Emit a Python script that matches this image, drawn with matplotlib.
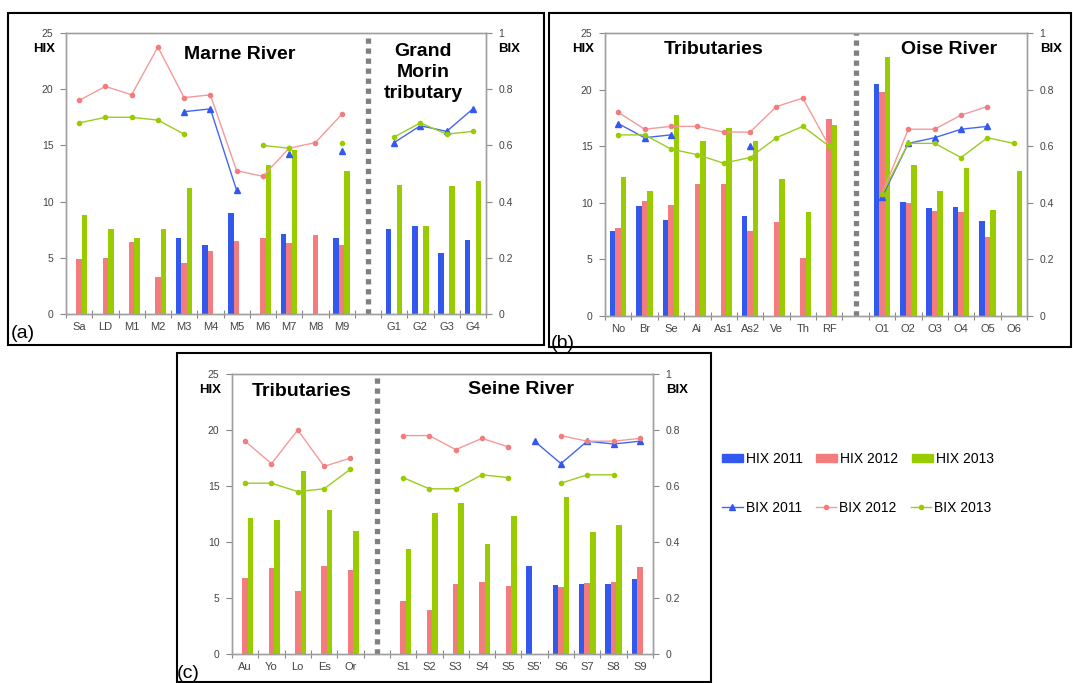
import numpy as np
import matplotlib
matplotlib.use('Agg')
import matplotlib.pyplot as plt
from matplotlib.lines import Line2D
from matplotlib.patches import Patch, Rectangle

plt.rcParams['font.family'] = ['Liberation Sans', 'DejaVu Sans']

W, H = 1073, 683
BLUE, PINK, GREEN = '#3358ee', '#f47c7c', '#99cc00'
LBLUE, LPINK, LGREEN = '#4466ee', '#f49a9a', '#9acc22'
n = np.nan

# (a) Marne River | Grand Morin tributary  ('' = gap with separator)
a_sites = ['Sa', 'LD', 'M1', 'M2', 'M3', 'M4', 'M5', 'M6', 'M7', 'M8', 'M9', '',
           'G1', 'G2', 'G3', 'G4']
a_hix11 = [n, n, n, n, 6.8, 6.1, 9.0, n, 7.1, n, 6.8, n, 7.6, 7.8, 5.4, 6.6]
a_hix12 = [4.9, 5.0, 6.4, 3.3, 4.5, 5.6, 6.5, 6.8, 6.3, 7.0, 6.1, n, n, n, n, n]
a_hix13 = [8.8, 7.6, 6.8, 7.6, 11.2, n, n, 13.3, 14.6, n, 12.7, n, 11.5, 7.8, 11.4, 11.8]
a_bix11 = [n, n, n, n, 0.72, 0.73, 0.44, n, 0.57, n, 0.58, n, 0.61, 0.67, 0.65, 0.73]
a_bix12 = [0.76, 0.81, 0.78, 0.95, 0.77, 0.78, 0.51, 0.49, 0.59, 0.61, 0.71, n, n, n, n, n]
a_bix13 = [0.68, 0.70, 0.70, 0.69, 0.64, n, n, 0.60, 0.59, n, 0.61, n, 0.63, 0.68, 0.64, 0.65]

# (b) Tributaries | Oise River
b_sites = ['No', 'Br', 'Se', 'Ai', 'As1', 'As2', 'Ve', 'Th', 'RF', '',
           'O1', 'O2', 'O3', 'O4', 'O5', 'O6']
b_hix11 = [7.5, 9.7, 8.5, n, n, 8.8, n, n, n, n, 20.5, 10.1, 9.5, 9.6, 8.4, n]
b_hix12 = [7.8, 10.2, 9.8, 11.7, 11.7, 7.5, 8.3, 5.1, 17.4, n, 19.8, 10.0, 9.3, 9.2, 7.0, n]
b_hix13 = [12.3, 11.0, 17.8, 15.5, 16.6, 15.5, 12.1, 9.2, 16.9, n, 22.9, 13.3, 11.0, 13.1, 9.4, 12.8]
b_bix11 = [0.68, 0.63, 0.64, n, n, 0.60, n, n, n, n, 0.42, 0.61, 0.63, 0.66, 0.67, n]
b_bix12 = [0.72, 0.66, 0.67, 0.67, 0.65, 0.65, 0.74, 0.77, 0.60, n, 0.43, 0.66, 0.66, 0.71, 0.74, n]
b_bix13 = [0.64, 0.64, 0.59, 0.57, 0.54, 0.56, 0.63, 0.67, 0.60, n, 0.43, 0.61, 0.61, 0.56, 0.63, 0.61]

# (c) Tributaries | Seine River
c_sites = ['Au', 'Yo', 'Lo', 'Es', 'Or', '', 'S1', 'S2', 'S3', 'S4', 'S5', "S5'",
           'S6', 'S7', 'S8', 'S9']
c_hix11 = [n, n, n, n, n, n, n, n, n, n, n, 7.9, 6.2, 6.25, 6.25, 6.7]
c_hix12 = [6.8, 7.7, 5.6, 7.9, 7.5, n, 4.7, 3.9, 6.25, 6.4, 6.1, n, 6.0, 6.3, 6.4, 7.8]
c_hix13 = [12.1, 12.0, 16.3, 12.9, 11.0, n, 9.4, 12.6, 13.5, 9.8, 12.3, n, 14.0, 10.9, 11.5, n]
c_bix11 = [n, n, n, n, n, n, n, n, n, n, n, 0.76, 0.68, 0.76, 0.75, 0.76]
c_bix12 = [0.76, 0.68, 0.80, 0.67, 0.70, n, 0.78, 0.78, 0.73, 0.77, 0.74, n, 0.78, 0.76, 0.76, 0.77]
c_bix13 = [0.61, 0.61, 0.58, 0.59, 0.66, n, 0.63, 0.59, 0.59, 0.64, 0.63, n, 0.61, 0.64, 0.64, n]

LINE_STYLES = [(LBLUE, '^', 4.5, BLUE), (LPINK, 'o', 3, PINK), (LGREEN, 'o', 3, GREEN)]


def px_axes(x0, y0, x1, y1):
    return [x0 / W, 1 - y1 / H, (x1 - x0) / W, (y1 - y0) / H]


def draw_panel(ax, sites, hix, bix, titles):
    x = np.arange(len(sites)) + 0.5
    bw = 0.21
    for k, (vals, col) in enumerate(zip(hix, [BLUE, PINK, GREEN])):
        v = np.array(vals, float)
        ok = ~np.isnan(v)
        ax.bar(x[ok] + (k - 1) * bw, v[ok], width=bw, color=col, zorder=2)
    ax.axvline(sites.index('') + 0.5, color='#808080', lw=3.8,
               linestyle=(0, (1.0, 0.9)), zorder=1)
    ax.set_xlim(0, len(sites))
    ax.set_ylim(0, 25)
    ax.set_yticks(range(0, 26, 5))
    ax.set_xticks(np.arange(len(sites) + 1))
    ax.set_xticklabels([])
    ax.set_xticks(x, minor=True)
    ax.set_xticklabels(sites, minor=True)
    ax.tick_params(axis='x', which='major', direction='inout', length=6,
                   color='#888888')
    ax.tick_params(axis='x', which='minor', length=0, pad=6, labelsize=8,
                   labelcolor='#444444')
    ax.tick_params(axis='y', direction='out', length=4, color='#888888',
                   labelsize=7.5, labelcolor='#444444', pad=5)

    ax2 = ax.twinx()
    for vals, (lc, mk, ms, mc) in zip(bix, LINE_STYLES):
        ax2.plot(x, vals, color=lc, lw=1.0, marker=mk, ms=ms, mfc=mc, mec=mc)
    ax2.set_ylim(0, 1)
    ax2.set_yticks([0, 0.2, 0.4, 0.6, 0.8, 1])
    ax2.set_yticklabels(['0', '0.2', '0.4', '0.6', '0.8', '1'])
    ax2.tick_params(axis='y', direction='out', length=4, color='#888888',
                    labelsize=7.5, labelcolor='#444444', pad=5)
    for a in (ax, ax2):
        for s in a.spines.values():
            s.set_color('#a0a0a0')
            s.set_linewidth(1.0)

    ax.text(-0.026, 0.943, 'HIX', transform=ax.transAxes, ha='right',
            va='center', fontsize=9.5, weight='bold')
    ax.text(1.03, 0.943, 'BIX', transform=ax.transAxes, ha='left',
            va='center', fontsize=9.5, weight='bold')
    for tx, tx_x, tx_y in titles:
        ax.text(tx_x, tx_y, tx, transform=ax.transAxes, ha='center',
                va='center', fontsize=14, weight='bold', linespacing=1.3,
                zorder=5)


fig = plt.figure(figsize=(W / 100, H / 100), dpi=100)

ax_a = fig.add_axes(px_axes(66, 33, 486, 314))
draw_panel(ax_a, a_sites, [a_hix11, a_hix12, a_hix13], [a_bix11, a_bix12, a_bix13],
           [('Marne River', 0.414, 0.925),
            ('Grand\nMorin\ntributary', 0.85, 0.86)])

ax_b = fig.add_axes(px_axes(605, 33, 1027, 316))
draw_panel(ax_b, b_sites, [b_hix11, b_hix12, b_hix13], [b_bix11, b_bix12, b_bix13],
           [('Tributaries', 0.258, 0.94), ('Oise River', 0.815, 0.94)])

ax_c = fig.add_axes(px_axes(232, 374, 653, 654))
draw_panel(ax_c, c_sites, [c_hix11, c_hix12, c_hix13], [c_bix11, c_bix12, c_bix13],
           [('Tributaries', 0.166, 0.936), ('Seine River', 0.686, 0.946)])

# panel frames
for x0, y0, x1, y1 in [(8, 13, 544, 345), (549, 13, 1071, 347), (177, 353, 711, 682)]:
    fig.add_artist(Rectangle((x0 / W, 1 - y1 / H), (x1 - x0) / W, (y1 - y0) / H,
                             transform=fig.transFigure, fill=False,
                             ec='black', lw=1.5))

for lab, lx, ly in [('(a)', 11, 334), ('(b)', 551, 343), ('(c)', 177, 673)]:
    fig.text(lx / W, 1 - ly / H, lab, ha='left', va='center', fontsize=14)

bar_handles = [Patch(color=c) for c in (BLUE, PINK, GREEN)]
line_handles = [Line2D([], [], color=lc, lw=1.0, marker=mk, ms=ms, mfc=mc, mec=mc)
                for lc, mk, ms, mc in LINE_STYLES]
leg_kw = dict(loc='center left', ncol=3, frameon=False, fontsize=10,
              handlelength=1.5, handletextpad=0.2, columnspacing=1.0,
              borderpad=0, borderaxespad=0)
fig.legend(bar_handles, ['HIX 2011', 'HIX 2012', 'HIX 2013'],
           bbox_to_anchor=(722 / W, 1 - 459 / H), handleheight=0.55, **leg_kw)
fig.legend(line_handles, ['BIX 2011', 'BIX 2012', 'BIX 2013'],
           bbox_to_anchor=(722 / W, 1 - 508 / H), **leg_kw)

fig.savefig('out.png', dpi=100)
